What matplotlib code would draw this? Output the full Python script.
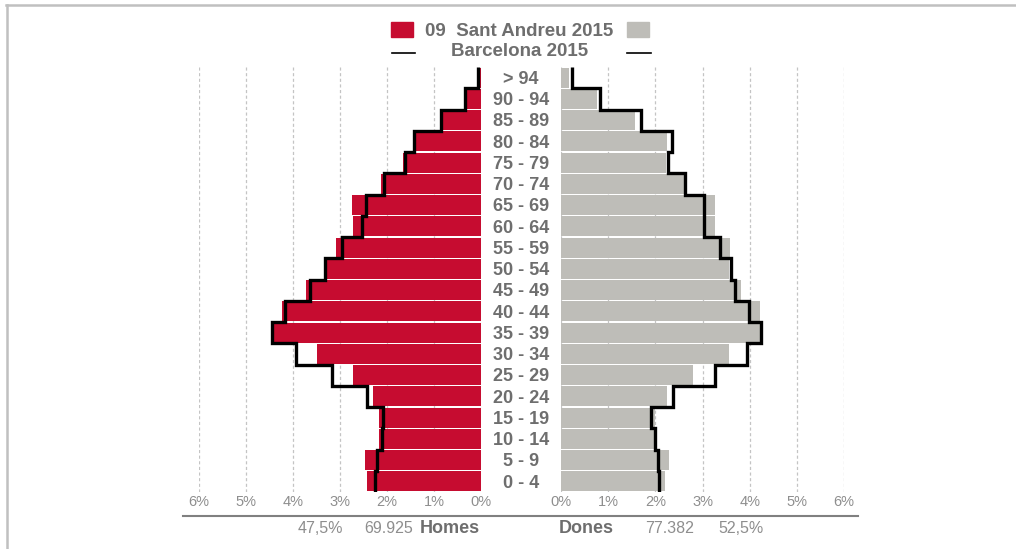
import matplotlib
matplotlib.use("Agg")
import matplotlib.pyplot as plt
import numpy as np
from matplotlib.lines import Line2D
from matplotlib.patches import Rectangle
from matplotlib.transforms import blended_transform_factory

# Grups d'edat, de baix a dalt
grups = ["0 - 4", "5 - 9", "10 - 14", "15 - 19", "20 - 24", "25 - 29", "30 - 34",
         "35 - 39", "40 - 44", "45 - 49", "50 - 54", "55 - 59", "60 - 64",
         "65 - 69", "70 - 74", "75 - 79", "80 - 84", "85 - 89", "90 - 94", "> 94"]

# % sobre la població total del districte (barres) i de Barcelona (línia)
homes_districte = [2.43, 2.46, 2.16, 2.17, 2.30, 2.72, 3.48, 4.42, 4.24, 3.72,
                   3.31, 3.08, 2.73, 2.75, 2.13, 1.65, 1.40, 0.81, 0.29, 0.06]
dones_districte = [2.20, 2.30, 2.03, 2.00, 2.24, 2.79, 3.57, 4.29, 4.21, 3.82,
                   3.56, 3.59, 3.27, 3.27, 2.61, 2.22, 2.25, 1.57, 0.76, 0.18]
homes_bcn = [2.25, 2.21, 2.11, 2.08, 2.43, 3.16, 3.94, 4.45, 4.16, 3.64,
             3.31, 2.96, 2.54, 2.44, 2.06, 1.61, 1.43, 0.85, 0.34, 0.06]
dones_bcn = [2.08, 2.05, 2.00, 1.91, 2.37, 3.27, 3.94, 4.25, 3.98, 3.69,
             3.61, 3.38, 3.04, 3.04, 2.63, 2.27, 2.35, 1.69, 0.82, 0.23]

total_homes = 69925
total_dones = 77382
eix_pct = [0, 1, 2, 3, 4, 5, 6]

VERMELL = "#C60C30"
GRIS = "#BEBDB8"
TEXT = "#6E6E6E"
TEXT_CLAR = "#8E8E8E"
FONT = ["Liberation Sans", "DejaVu Sans"]

W, H = 1016, 549
fig = plt.figure(figsize=(W / 100, H / 100), dpi=100)
fig.patch.set_facecolor("white")


def fx(px):
    return px / W


def fy(px):
    return 1 - px / H


y0, y1 = 67, 492
ax_h = fig.add_axes([fx(199), fy(y1), fx(481) - fx(199), fy(y0) - fy(y1)])
ax_d = fig.add_axes([fx(561), fy(y1), fx(844) - fx(561), fy(y0) - fy(y1)])

y = np.arange(len(grups))
vores = np.arange(len(grups) + 1) - 0.5

for ax, barres, linia, color in [(ax_h, homes_districte, homes_bcn, VERMELL),
                                 (ax_d, dones_districte, dones_bcn, GRIS)]:
    ax.barh(y, barres, height=0.93, color=color, zorder=2)
    ax.stairs(linia, vores, orientation="horizontal", baseline=None,
              color="black", linewidth=2.4, zorder=3)
    ax.set_ylim(-0.5, len(grups) - 0.5)
    ax.set_yticks([])
    ax.set_xticks(eix_pct)
    ax.set_xticklabels([f"{v}%" for v in eix_pct], fontsize=10.5,
                       color=TEXT_CLAR, family=FONT)
    ax.tick_params(axis="x", length=0, pad=2)
    ax.grid(axis="x", linestyle=(0, (2.5, 2)), color="#C4C4C4", linewidth=0.9, zorder=0)
    ax.set_axisbelow(True)
    for s in ax.spines.values():
        s.set_visible(False)

ax_h.set_xlim(6, 0)
ax_d.set_xlim(0, 6)

# Etiquetes dels grups d'edat al mig
trans = blended_transform_factory(fig.transFigure, ax_d.transData)
for yi, g in zip(y, grups):
    fig.text(fx(521), yi - 0.08, g, transform=trans, ha="center", va="center",
             fontsize=13, fontweight="bold", color=TEXT, family=FONT)

# Llegenda
fig.patches.append(Rectangle((fx(391), fy(37)), fx(22), fy(22) - fy(37),
                             transform=fig.transFigure, color=VERMELL))
fig.patches.append(Rectangle((fx(627), fy(37)), fx(22), fy(22) - fy(37),
                             transform=fig.transFigure, color=GRIS))
fig.text(fx(519), fy(31), "09  Sant Andreu 2015", ha="center", va="center",
         fontsize=13.5, fontweight="bold", color=TEXT, family=FONT)
for xa, xb in [(392, 415), (627, 651)]:
    fig.add_artist(Line2D([fx(xa), fx(xb)], [fy(52.5), fy(52.5)],
                          transform=fig.transFigure, color="black", linewidth=1.2))
fig.text(fx(520), fy(51.5), "Barcelona 2015", ha="center", va="center",
         fontsize=13.5, fontweight="bold", color=TEXT, family=FONT)

# Línia inferior i totals
fig.add_artist(Line2D([fx(183), fx(858)], [fy(516), fy(516)],
                      transform=fig.transFigure, color="#808080", linewidth=1.5))
total = total_homes + total_dones
pct_h = f"{100 * total_homes / total:.1f}%".replace(".", ",")
pct_d = f"{100 * total_dones / total:.1f}%".replace(".", ",")
num_h = f"{total_homes:,}".replace(",", ".")
num_d = f"{total_dones:,}".replace(",", ".")
yt = fy(528.5)
fig.text(fx(320), yt, pct_h, ha="center", va="center", fontsize=11.5,
         color=TEXT_CLAR, family=FONT)
fig.text(fx(389), yt, num_h, ha="center", va="center", fontsize=11.5,
         color=TEXT_CLAR, family=FONT)
fig.text(fx(450), yt, "Homes", ha="center", va="center", fontsize=13,
         fontweight="bold", color=TEXT, family=FONT)
fig.text(fx(586), yt, "Dones", ha="center", va="center", fontsize=13,
         fontweight="bold", color=TEXT, family=FONT)
fig.text(fx(670), yt, num_d, ha="center", va="center", fontsize=11.5,
         color=TEXT_CLAR, family=FONT)
fig.text(fx(741), yt, pct_d, ha="center", va="center", fontsize=11.5,
         color=TEXT_CLAR, family=FONT)

# Marc gris superior i esquerre
fig.add_artist(Line2D([fx(6), 1], [fy(4.5), fy(4.5)], transform=fig.transFigure,
                      color="#C0C0C0", linewidth=1.8))
fig.add_artist(Line2D([fx(7), fx(7)], [fy(4.5), 0], transform=fig.transFigure,
                      color="#C0C0C0", linewidth=1.8))

fig.savefig("out.png", dpi=100)
